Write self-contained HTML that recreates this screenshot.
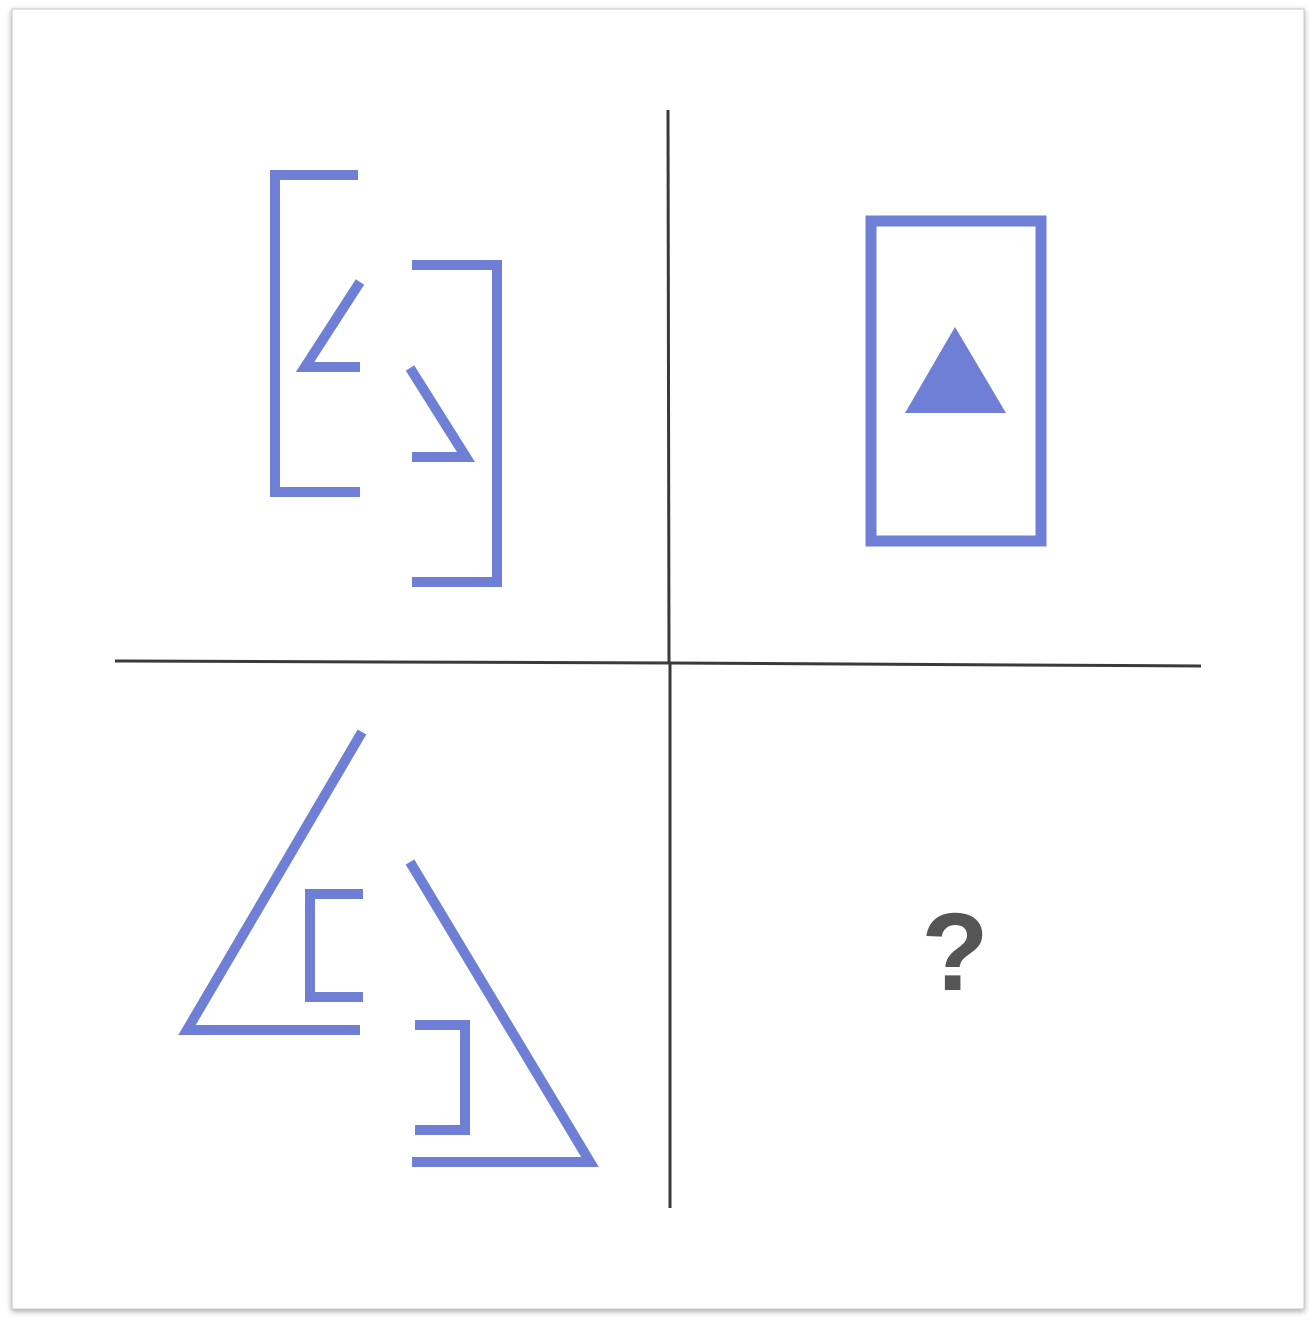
<!DOCTYPE html>
<html><head><meta charset="utf-8"><style>
html,body{margin:0;padding:0;background:#fff;}
svg{display:block;}
</style></head><body>
<svg width="1315" height="1325" viewBox="0 0 1315 1325">
<defs><filter id="sh" x="-5%" y="-5%" width="110%" height="110%"><feDropShadow dx="0" dy="2" stdDeviation="3" flood-color="#000" flood-opacity="0.35"/></filter></defs>
<rect x="0" y="0" width="1315" height="1325" fill="#fff"/>
<rect x="12" y="9" width="1292" height="1300" fill="#fff" stroke="#c8c8c8" stroke-width="1" filter="url(#sh)"/>
<g stroke="#3a3a3a" stroke-width="3" fill="none">
<line x1="668" y1="110" x2="669" y2="662"/>
<line x1="670" y1="662" x2="670" y2="1208"/>
<line x1="115" y1="661" x2="670" y2="663"/>
<line x1="670" y1="663" x2="1201" y2="666"/>
</g>
<g stroke="#6f7fd6" stroke-width="10" fill="none" stroke-linejoin="miter">
<polyline points="358,175 275,175 275,492 360,492"/>
<polyline points="412,265 497,265 497,582 412,582"/>
<polyline points="360,282 305,367 360,367"/>
<polyline points="410,368 466,457 412,457"/>
<rect x="871" y="221" width="170" height="320" stroke-width="11"/>
<polyline points="362,732 187,1030 360,1030"/>
<polyline points="363,894 310,894 310,997 363,997"/>
<polyline points="410,862 590,1162 412,1162"/>
<polyline points="415,1025 465,1025 465,1130 415,1130"/>
</g>
<polygon points="955,327 905,413 1006,413" fill="#6f7fd6"/>
<text x="955" y="990" text-anchor="middle" font-family="Liberation Sans, sans-serif" font-weight="bold" font-size="110" fill="#555">?</text>
</svg>
</body></html>
